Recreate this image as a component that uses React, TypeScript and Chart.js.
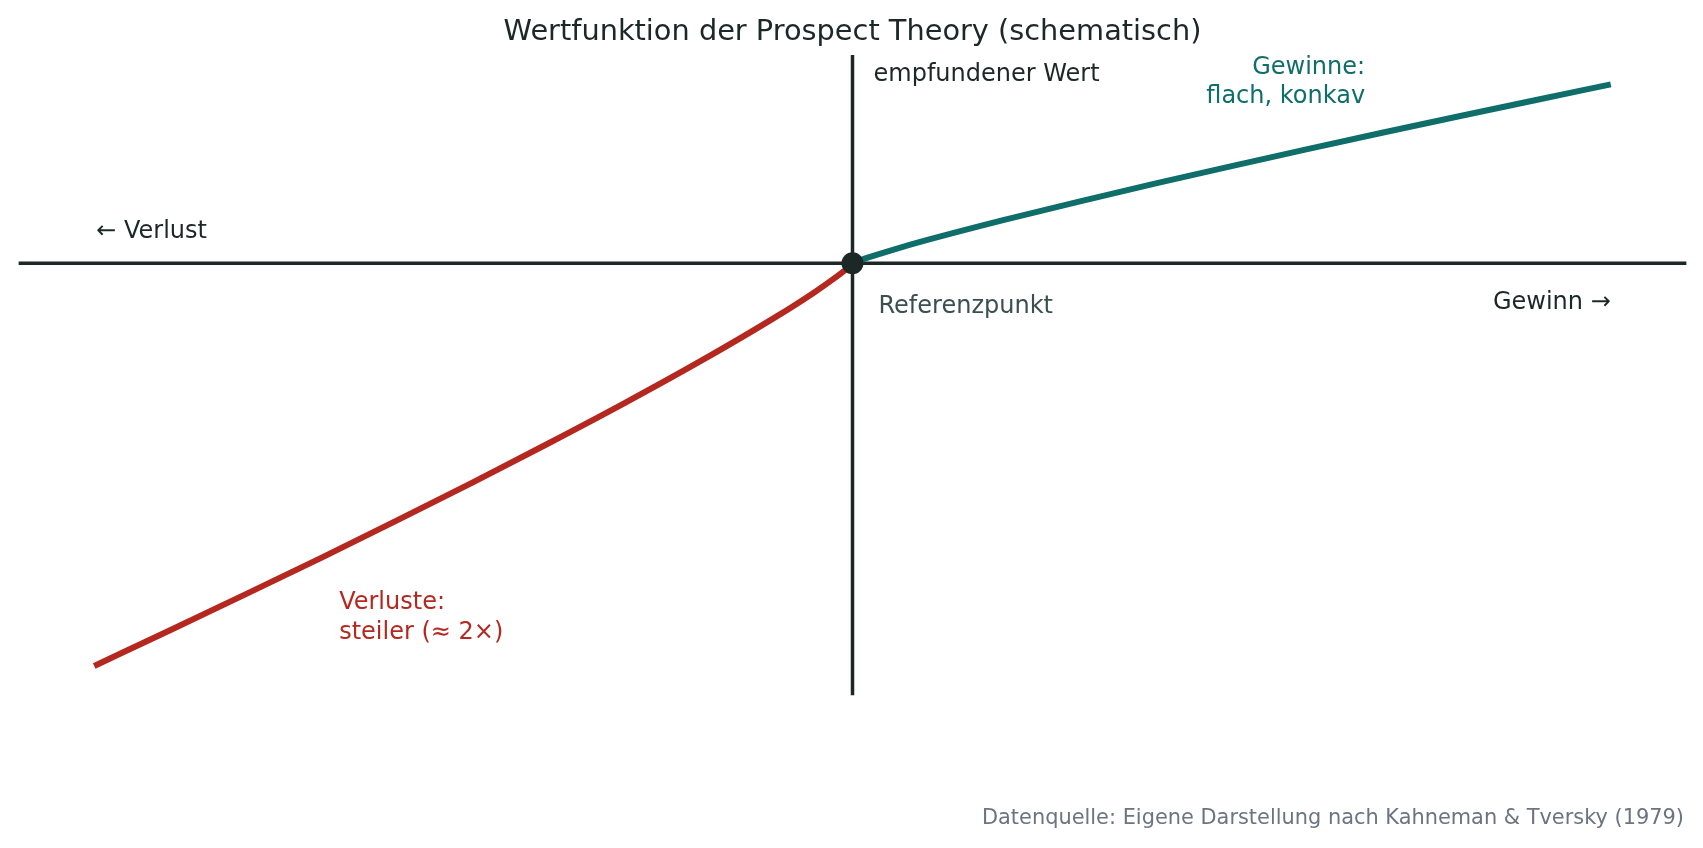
import React, { useEffect, useRef } from "react";
import { Chart, registerables } from "chart.js";

Chart.register(...registerables);

// Values
const GAIN_X = [0, 1, 2, 5, 10, 20, 30, 40, 50, 60, 70, 80, 90, 100];
const GAIN_Y = [0, 1.0, 1.84, 4.12, 7.59, 13.96, 19.95, 25.69, 31.27, 36.71, 42.06, 47.29, 52.45, 57.54];
const LOSS_X = [0, -1, -2, -5, -10, -20, -30, -40, -50, -60, -70, -80, -90, -100];
const LOSS_Y = [0, -2.25, -4.14, -9.27, -17.07, -31.41, -44.89, -57.8, -70.36, -82.6, -94.64, -106.4, -118.0, -129.5];
const X_RANGE = [-110, 110];
const Y_RANGE = [-139, 67];
const REFERENCE_POINT = [0, 0];

const TITLE = "Wertfunktion der Prospect Theory (schematisch)";
const Y_LABEL = "empfundener Wert";
const LOSS_AXIS_LABEL = "← Verlust";
const GAIN_AXIS_LABEL = "Gewinn →";
const REF_LABEL = "Referenzpunkt";
const GAIN_NOTE = ["Gewinne:", "flach, konkav"];
const LOSS_NOTE = ["Verluste:", "steiler (≈ 2×)"];
const SOURCE = "Datenquelle: Eigene Darstellung nach Kahneman & Tversky (1979)";

const DARK = "#1c2826";
const TEAL = "#0f6e69";
const RED = "#b5281f";
const REF_GRAY = "#3b4f4e";
const SOURCE_GRAY = "#6b7480";
const FONT = '"DejaVu Sans", "Liberation Sans", sans-serif';

const textPlugin = {
  id: "texts",
  afterDatasetsDraw(chart: any) {
    const ctx = chart.ctx;
    const xs = chart.scales.x;
    const ys = chart.scales.y;
    const px = (v: number) => xs.getPixelForValue(v);
    const py = (v: number) => ys.getPixelForValue(v);
    ctx.save();
    ctx.textBaseline = "middle";

    ctx.fillStyle = DARK;
    ctx.font = `28.8px ${FONT}`;
    ctx.textAlign = "center";
    ctx.fillText(TITLE, px(0), 32.6);

    ctx.font = `24px ${FONT}`;
    ctx.textAlign = "left";
    ctx.fillStyle = DARK;
    ctx.fillText(Y_LABEL, px(0) + 21, py(61) + 1.5);
    ctx.fillText(LOSS_AXIS_LABEL, px(-100) + 2, py(10.8) + 2);
    ctx.textAlign = "right";
    ctx.fillText(GAIN_AXIS_LABEL, px(100), py(-12.3) + 1.5);

    ctx.textAlign = "left";
    ctx.fillStyle = REF_GRAY;
    ctx.fillText(REF_LABEL, px(0) + 26, py(-13.3) + 2);

    const lh = 29.3;
    ctx.fillStyle = TEAL;
    ctx.textAlign = "right";
    GAIN_NOTE.forEach((t, i) => ctx.fillText(t, px(67.6), py(63.5) + 2 + i * lh));

    ctx.fillStyle = RED;
    ctx.textAlign = "left";
    LOSS_NOTE.forEach((t, i) => ctx.fillText(t, px(-67.7), py(-108.6) + 2 + i * lh));

    ctx.fillStyle = SOURCE_GRAY;
    ctx.font = `20.9px ${FONT}`;
    ctx.textAlign = "right";
    ctx.fillText(SOURCE, chart.width - 19, 819);
    ctx.restore();
  },
};

export default function App() {
  const ref = useRef<HTMLCanvasElement | null>(null);
  useEffect(() => {
    if (!ref.current) return;
    const gain = GAIN_X.map((x, i) => ({ x, y: GAIN_Y[i] }));
    const loss = LOSS_X.map((x, i) => ({ x, y: LOSS_Y[i] }));
    const chart = new Chart(ref.current, {
      type: "scatter",
      data: {
        datasets: [
          {
            data: [{ x: REFERENCE_POINT[0], y: REFERENCE_POINT[1] }],
            pointRadius: 11,
            pointBackgroundColor: DARK,
            pointBorderWidth: 0,
            showLine: false,
            order: 0,
          } as any,
          {
            data: gain,
            borderColor: TEAL,
            borderWidth: 6,
            pointRadius: 0,
            showLine: true,
            cubicInterpolationMode: "monotone",
            borderCapStyle: "butt",
            order: 1,
          },
          {
            data: loss,
            borderColor: RED,
            borderWidth: 6,
            pointRadius: 0,
            showLine: true,
            cubicInterpolationMode: "monotone",
            borderCapStyle: "butt",
            order: 1,
          },
          {
            data: [{ x: X_RANGE[0], y: 0 }, { x: X_RANGE[1], y: 0 }],
            borderColor: DARK,
            borderWidth: 3.5,
            pointRadius: 0,
            showLine: true,
            order: 2,
          },
          {
            data: [{ x: 0, y: Y_RANGE[0] }, { x: 0, y: Y_RANGE[1] }],
            borderColor: DARK,
            borderWidth: 3.5,
            pointRadius: 0,
            showLine: true,
            order: 2,
          },
        ],
      },
      options: {
        animation: false,
        responsive: true,
        maintainAspectRatio: false,
        layout: { padding: { left: 18.4, right: 16.4, top: 55, bottom: 152.5 } },
        plugins: { legend: { display: false }, tooltip: { enabled: false }, title: { display: false } },
        scales: {
          x: { type: "linear", min: X_RANGE[0], max: X_RANGE[1], display: false },
          y: { type: "linear", min: Y_RANGE[0], max: Y_RANGE[1], display: false },
        },
      },
      plugins: [textPlugin],
    });
    return () => chart.destroy();
  }, []);
  return (
    <div style={{ position: "fixed", left: 0, top: 0, width: 1703, height: 848, background: "#fff" }}>
      <canvas ref={ref} />
    </div>
  );
}
